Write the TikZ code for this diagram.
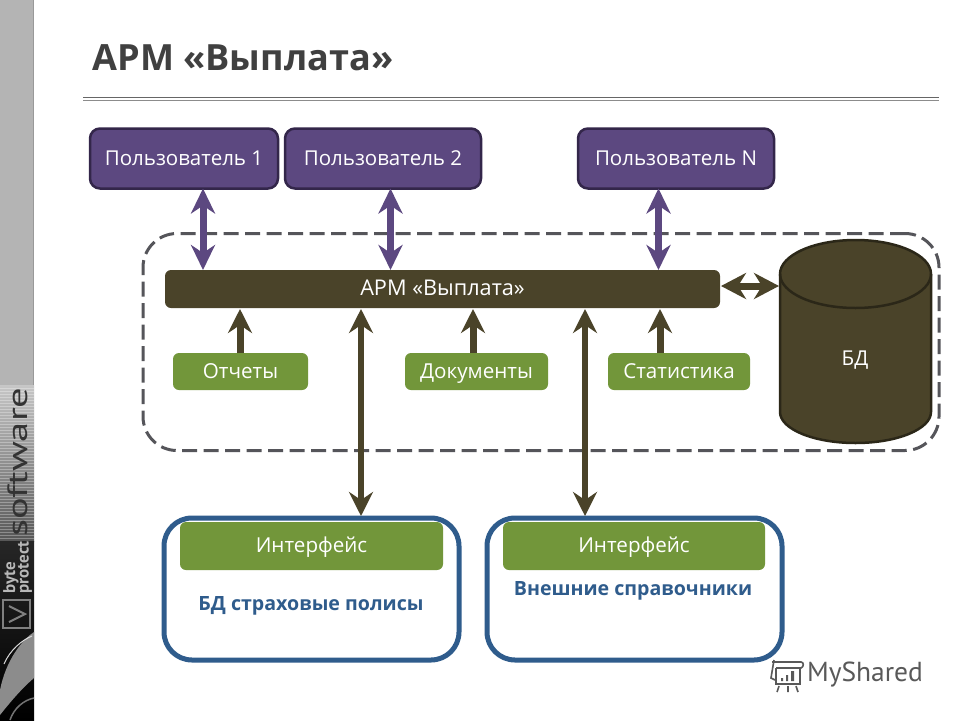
\documentclass[tikz,border=0pt]{standalone}
\usepackage{fontspec}
\setmainfont{Open Sans}
\newfontfamily\logofont{PT Sans}
\usetikzlibrary{arrows.meta,calc}
\definecolor{purp}{HTML}{5C4880}
\definecolor{purpd}{HTML}{33264A}
\definecolor{olv}{HTML}{4A4329}
\definecolor{olvd}{HTML}{2B2718}
\definecolor{grn}{HTML}{72963A}
\definecolor{blu}{HTML}{2F5C8C}
\definecolor{titlec}{HTML}{404040}
\definecolor{dashc}{HTML}{55555A}
\definecolor{stripc}{HTML}{B4B4B4}
\tikzset{
  px/.style={font=\fontsize{#1}{#1}\selectfont},
  box/.style={draw=none,outer sep=0pt,inner sep=0pt,anchor=center},
  ttx/.style={text height=17pt,text depth=4pt},
  usr/.style={box,ttx,draw=purpd,line width=2.5pt,fill=purp,rounded corners=10pt,text=white,minimum width=188pt,minimum height=60pt,px=20.5},
  grnb/.style={box,ttx,fill=grn,rounded corners=6pt,text=white,minimum height=37pt,px=20.6},
  frame/.style={box,draw=blu,line width=5pt,rounded corners=28pt,fill=white,minimum width=295pt,minimum height=142pt},
  parr/.style={draw=purp,line width=7pt,{Stealth[length=25pt,width=24pt,inset=8pt]}-{Stealth[length=25pt,width=24pt,inset=8pt]}},
  darr/.style={draw=olv,line width=6pt,{Stealth[length=24pt,width=24pt,inset=8pt]}-{Stealth[length=24pt,width=24pt,inset=8pt]}},
  uarr/.style={draw=olv,line width=7pt,-{Stealth[length=24pt,width=24pt,inset=8pt]}},
  lbl/.style={box,text=blu,font=\fontsize{19.6}{22}\selectfont\bfseries}
}
\begin{document}
\begin{tikzpicture}[x=1pt,y=-1pt]
\useasboundingbox (0,0) rectangle (960,720);
\fill[white] (0,0) rectangle (960,720);
% left strip
\fill[stripc] (0,0) rectangle (34,385);
\draw[black!40,line width=1pt] (33.5,0) -- (33.5,385);
\shade[top color=black!22,bottom color=black!66] (0,385) rectangle (34,541);
\foreach \yy in {388,391,...,540}{\draw[white,opacity=.3,line width=1pt] (0,\yy) -- (34,\yy);}
\node[rotate=90,xscale=1.45,text=black!80,font=\fontsize{28}{28}\selectfont\logofont] at (18,462) {software};
\shade[top color=black!85,bottom color=black] (0,541) rectangle (34,720);
\node[rotate=90,text=black!28,font=\fontsize{17}{17}\selectfont\logofont\bfseries,anchor=west] at (11,597) {byte};
\node[rotate=90,text=black!28,font=\fontsize{17}{17}\selectfont\logofont\bfseries,anchor=west] at (25,597) {protect};
\draw[black!50,line width=1.5pt] (3,600) rectangle (30,628);
\draw[black!50,line width=2pt] (9,606) -- (25,614) -- (9,622);
\fill[black!45] (0,690) .. controls (6,660) and (22,640) .. (34,632) -- (34,678) .. controls (20,690) and (8,705) .. (0,715) -- cycle;
\draw[black!15,line width=1pt] (4,664) .. controls (10,650) and (22,640) .. (32,636);
\draw[black!55,line width=1.5pt] (10,720) .. controls (14,708) and (24,700) .. (34,698);
% title
\node[box,anchor=west,text=titlec,font=\fontsize{36.1}{36}\selectfont\bfseries] (title) at (92.5,58) {АРМ «Выплата»};
\coordinate (ruleL) at (83,97);
\coordinate (ruleR) at (939,97);
\draw[black!60,line width=1pt] (ruleL) -- (ruleR);
\draw[black!45,line width=1.5pt] ($(ruleL)+(0,3.5)$) -- ($(ruleR)+(0,3.5)$);
% dashed container
\node[box,draw=dashc,line width=3pt,rounded corners=34pt,dash pattern=on 15pt off 6.5pt,minimum width=796pt,minimum height=217pt] (sys) at (541,342) {};
% users
\node[usr] (u1) at (184,158.5) {Пользователь 1};
\node[usr,minimum width=196pt] (u2) at (383,158.5) {Пользователь 2};
\node[usr,minimum width=196pt] (u3) at (676,158.5) {Пользователь N};
% main bar
\node[box,ttx,fill=olv,rounded corners=6pt,text=white,minimum width=555pt,minimum height=38pt,px=21.7] (bar) at (442.5,289) {АРМ «Выплата»};
% db
\node[box,minimum width=151pt,minimum height=203pt] (db) at (855.5,342) {};
\draw[draw=olvd,fill=olv,line width=2.5pt] (db.west |- 0,274) arc[start angle=180,end angle=0,x radius=75.5pt,y radius=34pt]
  -- (931,412) arc[start angle=0,end angle=-180,x radius=75.5pt,y radius=31pt] -- cycle;
\draw[draw=olvd,line width=2.5pt] (780,274) arc[start angle=180,end angle=360,x radius=75.5pt,y radius=34pt];
\node[box,text=white,px=20.5] (dbl) at (855,360.5) {БД};
% green
\node[grnb,minimum width=135pt] (g1) at (240.5,371.5) {Отчеты};
\node[grnb,minimum width=143pt] (g2) at (476.5,371.5) {Документы};
\node[grnb,minimum width=142pt] (g3) at (679,371.5) {Статистика};
% frames
\node[frame] (f1) at (311.5,589) {};
\node[frame] (f2) at (634.5,589) {};
\node[grnb,minimum width=263pt,minimum height=48pt] (i1) at (311.5,546) {Интерфейс};
\node[grnb,minimum width=262pt,minimum height=48pt] (i2) at (634,546) {Интерфейс};
\node[lbl] (l1) at (311,606) {БД страховые полисы};
\node[lbl] (l2) at (633,591) {Внешние справочники};
% arrow axes
\coordinate (c1) at (203,0);
\coordinate (c2) at (390.5,0);
\coordinate (c3) at (658.5,0);
\coordinate (c4) at (240,0);
\coordinate (c5) at (473,0);
\coordinate (c6) at (660,0);
\coordinate (c7) at (361,0);
\coordinate (c8) at (585,0);
\draw[parr] (u1.south -| c1) -- (bar.north -| c1);
\draw[parr] (u2.south -| c2) -- (bar.north -| c2);
\draw[parr] (u3.south -| c3) -- (bar.north -| c3);
\draw[uarr] (g1.north -| c4) -- ($(bar.south -| c4)+(0,1)$);
\draw[uarr] (g2.north -| c5) -- ($(bar.south -| c5)+(0,1)$);
\draw[uarr] (g3.north -| c6) -- ($(bar.south -| c6)+(0,1)$);
\draw[darr] ($(bar.south -| c7)+(0,1)$) -- ($(f1.north -| c7)+(0,-2)$);
\draw[darr] ($(bar.south -| c8)+(0,1)$) -- ($(f2.north -| c8)+(0,-2)$);
\draw[draw=olv,line width=7pt,{Stealth[length=25pt,width=26pt,inset=8pt]}-{Stealth[length=25pt,width=26pt,inset=8pt]}] ($(bar.east)+(1,-3)$) -- ($(db.west |- bar.east)+(-1,-3)$);
% watermark
\begin{scope}[draw=black!65,line width=1.6pt]
\draw (772,662) -- (801,662) .. controls (804,662) and (804,667) .. (801,668) -- (776,668);
\draw (774,660) -- (771,678) -- (775,680);
\draw (776,668) -- (776,684) -- (800,684) -- (800,668);
\fill[black!65] (781,678) rectangle (783,681) (786,675) rectangle (788,681) (791,671) rectangle (794,681);
\draw (779,686) -- (777,692) (788,686) -- (788,692) (796,686) -- (798,692);
\end{scope}
\node[box,anchor=west,text=black!65,font=\fontsize{27.5}{28}\selectfont\logofont] (ms) at (807,675) {MyShared};
\end{tikzpicture}
\end{document}
